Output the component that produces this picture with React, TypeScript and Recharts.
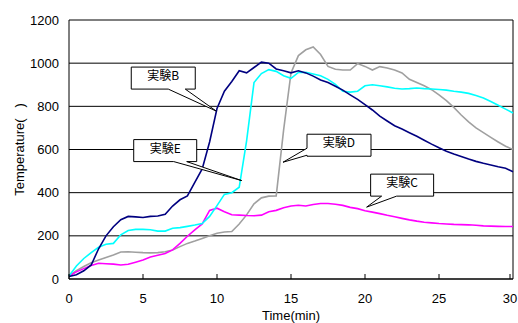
import React from 'react'
import {
  LineChart,
  Line,
  XAxis,
  YAxis,
  CartesianGrid,
  ReferenceLine,
  ReferenceDot,
} from 'recharts'

// time (min), every half minute
const times = [
  0, 0.5, 1, 1.5, 2, 2.5, 3, 3.5, 4, 4.5, 5, 5.5, 6, 6.5, 7, 7.5, 8, 8.5, 9, 9.5,
  10, 10.5, 11, 11.5, 12, 12.5, 13, 13.5, 14, 14.5, 15, 15.5, 16, 16.5, 17, 17.5,
  18, 18.5, 19, 19.5, 20, 20.5, 21, 21.5, 22, 22.5, 23, 23.5, 24, 24.5, 25, 25.5,
  26, 26.5, 27, 27.5, 28, 28.5, 29, 29.5, 30,
]

const expB = [
  12, 20, 38, 65, 140, 200, 242, 275, 290, 288, 285, 290, 292, 300, 338, 367, 385, 448, 510, 635,
  790, 870, 915, 965, 955, 980, 1005, 1000, 973, 965, 955, 965, 955, 940, 922, 910,
  893, 875, 853, 832, 808, 783, 755, 732, 710, 695, 678, 661, 643, 625, 608, 592,
  579, 568, 556, 545, 536, 528, 520, 513, 497,
]

const expC = [
  14, 33, 48, 63, 73, 71, 69, 65, 68, 78, 88, 102, 110, 118, 135, 165, 198, 228, 255, 318,
  328, 312, 298, 296, 294, 293, 296, 312, 318, 330, 338, 342, 338, 345, 350, 350,
  346, 341, 332, 326, 316, 310, 303, 295, 288, 281, 274, 268, 263, 260, 257, 255,
  253, 252, 251, 249, 246, 245, 244, 243, 243,
]

const expD = [
  14, 38, 58, 75, 88, 100, 111, 125, 126, 124, 122, 121, 122, 126, 134, 150, 165, 176, 188, 200,
  212, 218, 220, 255, 297, 348, 376, 384, 385, 690, 955, 1035, 1062, 1075, 1040, 985,
  972, 968, 968, 998, 985, 968, 984, 978, 968, 955, 925, 910, 895, 877, 853, 826,
  795, 760, 728, 700, 678, 656, 635, 615, 600,
]

const expE = [
  14, 60, 95, 122, 147, 161, 165, 205, 225, 230, 230, 228, 222, 222, 235, 238, 244, 250, 257, 290,
  340, 392, 400, 425, 640, 910, 952, 970, 962, 942, 930, 957, 958, 950, 942, 925,
  902, 870, 866, 870, 895, 900, 895, 890, 884, 880, 882, 885, 882, 880, 878, 875,
  870, 866, 860, 850, 839, 822, 805, 787, 769,
]

const xTicks = [0, 5, 10, 15, 20, 25, 30]
const yTicks = [0, 200, 400, 600, 800, 1000, 1200]

// callout labels and the point on the curve they point at
const calloutNames = ['実験B', '実験E', '実験D', '実験C']
const calloutTimes = [9.95, 11.67, 14.46, 20.11]
const calloutTemps = [778, 456, 541, 333]

// box geometry relative to the pointer tip (px)
const calloutBoxes: Record<string, any> = {
  '実験B': { l: -85, r: -21, t: -44, b: -22, side: 'bottom', w1: -48, w2: -31 },
  '実験E': { l: -108, r: -45, t: -41, b: -19, side: 'bottom', w1: -68, w2: -55 },
  '実験D': { l: 24, r: 88, t: -28, b: -6, side: 'left', w1: -14, w2: -7 },
  '実験C': { l: 4, r: 67, t: -33, b: -11, side: 'bottom', w1: 15, w2: 30 },
}

const data = times.map((t, i) => ({
  t,
  b: expB[i],
  c: expC[i],
  d: expD[i],
  e: expE[i],
}))

const font = '"Liberation Sans", Arial, sans-serif'

const Callout = ({ cx, cy, name }: any) => {
  const g = calloutBoxes[name]
  const { l, r, t, b } = g
  let path = ''
  if (g.side === 'bottom') {
    path = `M${l},${t} L${r},${t} L${r},${b} L${g.w2},${b} L0,0 L${g.w1},${b} L${l},${b} Z`
  } else {
    path = `M${l},${t} L${r},${t} L${r},${b} L${l},${b} L${l},${g.w2} L0,0 L${l},${g.w1} Z`
  }
  return (
    <g transform={`translate(${cx},${cy})`}>
      <path d={path} fill="#fff" stroke="#000" strokeWidth={1} />
      <text
        x={(l + r) / 2}
        y={t + 13}
        textAnchor="middle"
        fontSize={12}
        fontFamily='"Noto Sans CJK JP", sans-serif'
        fill="#000"
      >
        {name}
      </text>
    </g>
  )
}

const XTick = ({ x, y, payload }: any) => (
  <g>
    <line x1={x} x2={x} y1={y} y2={y - 5} stroke="#000" />
    <text x={x} y={y + 24} textAnchor="middle" fontSize={13} fontFamily={font} fill="#000">
      {payload.value}
    </text>
  </g>
)

export default function App() {
  return (
    <div style={{ position: 'absolute', left: 0, top: 0, background: '#fff' }}>
      <LineChart
        width={518}
        height={323}
        data={data}
        margin={{ top: 20, right: 5, left: 9, bottom: 0 }}
      >
        <CartesianGrid vertical={false} stroke="#000" horizontalValues={yTicks} />
        <XAxis
          dataKey="t"
          type="number"
          domain={[0, 30]}
          ticks={xTicks}
          height={44}
          tickSize={0}
          tickMargin={0}
          tick={<XTick />}
          axisLine={{ stroke: '#000' }}
          label={{
            value: 'Time(min)',
            position: 'insideBottom',
            offset: 3,
            style: { fontSize: 13, fontFamily: font, fill: '#000' },
          }}
        />
        <YAxis
          type="number"
          domain={[0, 1200]}
          ticks={yTicks}
          width={60}
          tickSize={0}
          tickMargin={10}
          tickLine={false}
          axisLine={{ stroke: '#000' }}
          tick={{ fontSize: 13, fontFamily: font, fill: '#000' }}
          label={{
            value: 'Temperature(\u00a0\u00a0\u00a0)',
            angle: -90,
            position: 'insideLeft',
            offset: 10,
            style: { fontSize: 13, fontFamily: font, fill: '#000', textAnchor: 'middle' },
          }}
        />
        <ReferenceLine x={30} stroke="#000" />
        <Line dataKey="d" stroke="#a0a0a0" strokeWidth={1.6} dot={false} isAnimationActive={false} />
        <Line dataKey="c" stroke="#ff00ff" strokeWidth={1.6} dot={false} isAnimationActive={false} />
        <Line dataKey="e" stroke="#00ffff" strokeWidth={1.6} dot={false} isAnimationActive={false} />
        <Line dataKey="b" stroke="#000080" strokeWidth={1.6} dot={false} isAnimationActive={false} />
        {calloutNames.map((name, i) => (
          <ReferenceDot
            key={name}
            x={calloutTimes[i]}
            y={calloutTemps[i]}
            shape={(p: any) => <Callout {...p} name={name} />}
          />
        ))}
      </LineChart>
    </div>
  )
}
